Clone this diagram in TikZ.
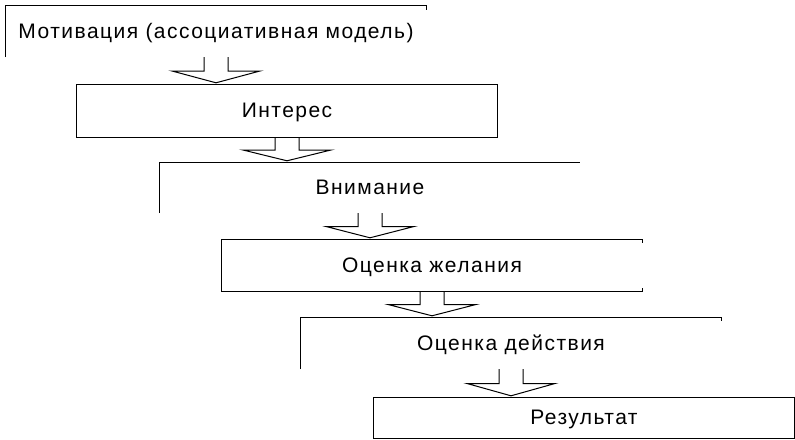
\documentclass[tikz,border=0pt]{standalone}
\usepackage{fontspec}
\setmainfont{Liberation Sans}[LetterSpace=7]
\usetikzlibrary{calc}

\tikzset{
  stage/.style={minimum width=420pt, minimum height=51pt, inner sep=0pt,
    text height=16pt, text depth=3pt, font=\fontsize{21}{25}\selectfont},
  rim/.style={line width=1pt}
}

% open block arrow from one stage down to the next
\newcommand\blockarrow[2]{%
\draw[rim] let \p1=(#1.south), \p2=(#2.north), \p3=($(\p1)!0.5!(\p2)$) in
  (\x1-12pt,\y1) -- (\x1-12pt,\y3) -- (\x1-44pt,\y3) -- (\x1,\y2+2pt)
  -- (\x1+44pt,\y3) -- (\x1+12pt,\y3) -- (\x1+12pt,\y1);}

\begin{document}
\begin{tikzpicture}[x=1pt,y=-1pt]
\useasboundingbox (0,0) rectangle (795,439);

\node[stage] (motiv) at (216,31.5) {Мотивация (ассоциативная модель)};
\node[stage, minimum height=52pt] (interest) at (287,111) {Интерес};
\node[stage, minimum height=50pt] (attention) at (370,188) {Внимание};
\node[stage] (wish) at (432,265.5) {Оценка желания};
\node[stage] (action) at (511,343.5) {Оценка действия};
\node[stage, minimum height=40pt] (result) at (584,418) {Результат};

\draw[rim] (motiv.south west) -- (motiv.north west) -- (motiv.north east) -- ++(0,4);
\draw[rim] (interest.south west) rectangle (interest.north east);
\draw[rim] (attention.south west) -- (attention.north west) -- (attention.north east);
\draw[rim] ($(wish.north east)+(0,3)$) -- (wish.north east) -- (wish.north west)
  -- (wish.south west) -- (wish.south east) -- ++(0,-3);
\draw[rim] (action.south west) -- (action.north west) -- (action.north east) -- ++(0,3);
\draw[rim] (result.south west) rectangle (result.north east);

\blockarrow{motiv}{interest}
\blockarrow{interest}{attention}
\blockarrow{attention}{wish}
\blockarrow{wish}{action}
\blockarrow{action}{result}
\end{tikzpicture}
\end{document}
